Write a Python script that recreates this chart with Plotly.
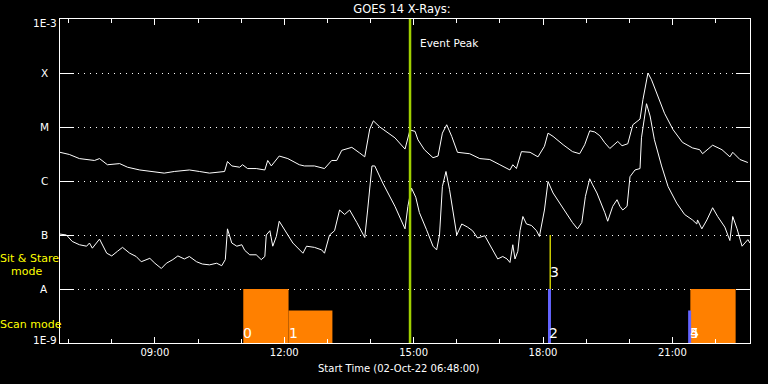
import numpy as np
import pandas as pd
import plotly.graph_objects as go

DAY = "2022-10-02 "

# Long channel (1-8 A) - upper curve
long_times = ["06:48","07:01","07:15","07:36","07:43","07:54","08:11","08:22","08:39","09:00",
              "09:13","09:27","09:48","10:02","10:16","10:37","10:41","10:47","10:58","11:02",
              "11:09","11:21","11:33","11:37","11:42","11:53","12:05","12:21","12:28","12:42",
              "12:56","13:06","13:13","13:20","13:34","13:45","13:52","13:59","14:04","14:13",
              "14:34","14:48","14:55","15:02","15:06","15:15","15:27","15:34","15:40","15:46",
              "15:53","16:01","16:18","16:32","16:46","17:00","17:14","17:18","17:23","17:30",
              "17:42","17:53","18:02","18:07","18:14","18:28","18:41","18:51","18:58","19:05",
              "19:12","19:19","19:26","19:33","19:44","19:50","19:58","20:05","20:15","20:19",
              "20:26","20:31","20:40","20:49","21:01","21:14","21:28","21:38","21:42","21:56",
              "22:09","22:20","22:24","22:34","22:45"]
long_flux = [3.4e-6,3.1e-6,2.6e-6,2.4e-6,2.6e-6,2.0e-6,2.1e-6,1.8e-6,1.6e-6,1.5e-6,
             1.4e-6,1.5e-6,1.6e-6,1.5e-6,1.4e-6,1.5e-6,2.3e-6,1.9e-6,1.8e-6,2.0e-6,
             1.7e-6,1.7e-6,1.6e-6,2.4e-6,1.9e-6,2.9e-6,2.6e-6,2.0e-6,1.9e-6,1.9e-6,
             1.7e-6,2.4e-6,2.4e-6,3.7e-6,4.2e-6,3.3e-6,2.8e-6,9.2e-6,1.3e-5,1.0e-5,
             6.3e-6,3.9e-6,8.8e-6,8.3e-6,5.8e-6,3.8e-6,2.7e-6,2.9e-6,7.7e-6,1.1e-5,
             6.7e-6,3.4e-6,3.2e-6,2.6e-6,2.5e-6,2.0e-6,1.6e-6,2.0e-6,1.7e-6,3.5e-6,
             3.4e-6,2.8e-6,4.4e-6,7.7e-6,6.7e-6,4.7e-6,3.5e-6,3.2e-6,4.7e-6,8.5e-6,
             8.1e-6,6.9e-6,5.1e-6,4.0e-6,5.4e-6,4.5e-6,4.9e-6,1.1e-5,1.4e-5,3.2e-5,
             1.0e-4,7.5e-5,3.7e-5,1.8e-5,8.9e-6,5.2e-6,4.1e-6,3.8e-6,3.2e-6,4.6e-6,
             3.8e-6,2.8e-6,3.4e-6,2.5e-6,2.2e-6]

# Short channel (0.5-4 A) - lower curve
short_times = ["06:48","06:57","07:05","07:15","07:25","07:29","07:33","07:43","07:53","08:00",
               "08:08","08:15","08:25","08:34","08:41","08:53","09:00","09:09","09:16","09:25",
               "09:32","09:41","09:48","09:58","10:06","10:16","10:26","10:33","10:38","10:41",
               "10:47","10:54","11:01","11:05","11:12","11:21","11:28","11:33","11:35","11:40",
               "11:44","11:49","11:53","12:00","12:12","12:26","12:31","12:42","12:52","12:56",
               "13:03","13:10","13:17","13:24","13:31","13:41","13:52","13:56","14:02","14:06",
               "14:17","14:34","14:48","14:52","14:57","15:03","15:08","15:18","15:27","15:32",
               "15:36","15:40","15:45","15:50","16:00","16:07","16:15","16:22","16:29","16:39",
               "16:49","16:57","17:04","17:10","17:14","17:18","17:21","17:25","17:28","17:32",
               "17:37","17:44","17:51","17:55","18:02","18:07","18:14","18:23","18:33","18:41",
               "18:48","18:54","18:59","19:05","19:09","19:15","19:26","19:30","19:37","19:43",
               "19:47","19:51","19:57","20:01","20:08","20:15","20:17","20:22","20:24","20:29",
               "20:35","20:45","20:54","21:06","21:17","21:28","21:34","21:35","21:41","21:48",
               "21:56","22:03","22:13","22:20","22:24","22:30","22:37","22:45","22:48"]
short_flux = [1.04e-7,1.0e-7,7.6e-8,6.6e-8,6.2e-8,7.1e-8,5.7e-8,8.4e-8,4.6e-8,4.1e-8,
              5.0e-8,5.9e-8,4.6e-8,4.0e-8,3.2e-8,3.7e-8,3.0e-8,2.4e-8,3.0e-8,3.5e-8,
              4.1e-8,3.6e-8,4.0e-8,3.2e-8,2.9e-8,2.8e-8,3.0e-8,2.7e-8,3.5e-8,1.3e-7,
              7.1e-8,6.2e-8,6.6e-8,5.2e-8,4.3e-8,4.3e-8,3.5e-8,4.0e-8,1.0e-7,1.2e-7,
              6.2e-8,9.4e-8,1.8e-7,1.3e-7,7.1e-8,4.6e-8,6.2e-8,5.9e-8,5.3e-8,4.6e-8,
              1.0e-7,1.2e-7,2.9e-7,2.4e-7,2.9e-7,1.7e-7,9.0e-8,2.9e-7,1.9e-6,1.9e-6,
              9.2e-7,3.4e-7,1.3e-7,3.4e-7,7.4e-7,5.0e-7,2.6e-7,1.25e-7,6.2e-8,5.3e-8,
              1.0e-7,7.9e-7,1.5e-6,6.9e-7,1.0e-7,1.6e-7,1.4e-7,1.2e-7,8.8e-8,9.7e-8,
              5.7e-8,3.6e-8,4.0e-8,3.6e-8,3.1e-8,6.6e-8,3.6e-8,5.0e-8,1.2e-7,2.2e-7,
              1.6e-7,1.5e-7,1.2e-7,9.4e-8,2.9e-7,9.8e-7,6.0e-7,3.9e-7,2.4e-7,1.7e-7,
              1.3e-7,1.7e-7,5.2e-7,1.1e-6,8.5e-7,6.0e-7,2.6e-7,1.8e-7,3.4e-7,4.5e-7,
              3.4e-7,2.9e-7,3.4e-7,1.2e-6,1.6e-6,1.7e-6,6.3e-6,1.6e-5,2.7e-5,1.6e-5,
              5.8e-6,1.9e-6,7.9e-7,3.9e-7,2.4e-7,1.9e-7,1.6e-7,1.9e-7,1.3e-7,1.9e-7,
              3.2e-7,2.2e-7,1.4e-7,7.9e-8,2.2e-7,1.3e-7,6.2e-8,8.2e-8,7.1e-8]

# Scan mode blocks (orange)
scan_starts = ["11:03", "12:06", "21:25"]
scan_ends = ["12:06", "13:07", "22:28"]
scan_tops = [1e-8, 4e-9, 1e-8]
# Scan mode short events (blue)
blue_times = ["18:09", "21:24"]
blue_tops = [1e-8, 4e-9]
# Sit & stare event (yellow)
sit_times = ["18:10"]
sit_range = [1e-8, 1e-7]
# Event labels
label_texts = ["0", "1", "2", "3", "4", "5"]
label_times = ["11:03", "12:06", "18:09", "18:10", "21:24", "21:25"]
label_flux = [1.5e-9, 1.5e-9, 1.5e-9, 2.1e-8, 1.5e-9, 1.5e-9]

event_peak = "14:55"
x_range = ["06:48", "22:48"]
ytick_vals = [1e-9, 1e-8, 1e-7, 1e-6, 1e-5, 1e-4, 1e-3]
ytick_text = ["1E-9", "A", "B", "C", "M", "X", "1E-3"]

def T(s):
    return pd.to_datetime(DAY + s)

FONT = "DejaVu Sans"
fig = go.Figure()

fig.add_trace(go.Scatter(x=[T(t) for t in long_times], y=long_flux, mode="lines",
                         line=dict(color="white", width=1), hoverinfo="skip"))
fig.add_trace(go.Scatter(x=[T(t) for t in short_times], y=short_flux, mode="lines",
                         line=dict(color="white", width=1), hoverinfo="skip"))

for s, e, top in zip(scan_starts, scan_ends, scan_tops):
    fig.add_trace(go.Scatter(x=[T(s), T(s), T(e), T(e), T(s)],
                             y=[1e-9, top, top, 1e-9, 1e-9],
                             fill="toself", fillcolor="#ff8000", mode="lines",
                             line=dict(width=0, color="#ff8000"), hoverinfo="skip"))
for t, top in zip(blue_times, blue_tops):
    fig.add_trace(go.Scatter(x=[T(t), T(t)], y=[1e-9, top], mode="lines",
                             line=dict(color="#6464ff", width=3), hoverinfo="skip"))
for t in sit_times:
    fig.add_trace(go.Scatter(x=[T(t), T(t)], y=sit_range, mode="lines",
                             line=dict(color="#ffff00", width=1.2), hoverinfo="skip"))

fig.add_shape(type="line", x0=T(event_peak), x1=T(event_peak), xref="x",
              y0=0, y1=1, yref="paper", line=dict(color="#a0d000", width=2.5))

ann = []
for txt, t, fl in zip(label_texts, label_times, label_flux):
    ann.append(dict(x=T(t), y=np.log10(fl), xref="x", yref="y", text=txt, showarrow=False,
                    xanchor="left", yanchor="middle", xshift=-2,
                    font=dict(family=FONT, size=14, color="white")))
for v, txt in zip(ytick_vals, ytick_text):
    if txt.startswith("1E"):
        ys = -4 if v == 1e-3 else 3
        ann.append(dict(x=0, y=np.log10(v), xref="paper", yref="y", text=txt, showarrow=False,
                        xanchor="right", yanchor="middle", xshift=-1, yshift=ys,
                        font=dict(family=FONT, size=10.5, color="white")))
    else:
        ann.append(dict(x=0, y=np.log10(v), xref="paper", yref="y", text=txt, showarrow=False,
                        xanchor="center", yanchor="middle", xshift=-16,
                        font=dict(family=FONT, size=10.5, color="white")))
ann.append(dict(x=T(event_peak), y=0.926, xref="x", yref="paper", text="Event Peak",
                showarrow=False, xanchor="left", yanchor="middle", xshift=8,
                font=dict(family=FONT, size=10.5, color="white")))
ann.append(dict(x=0.491, y=-0.080, xref="paper", yref="paper",
                text="Start Time (02-Oct-22 06:48:00)", showarrow=False,
                xanchor="center", yanchor="middle",
                font=dict(family=FONT, size=10, color="white")))
ann.append(dict(x=0, y=0.260, xref="paper", yref="paper", text="Sit & Stare",
                showarrow=False, xanchor="left", yanchor="middle", xshift=-62,
                font=dict(family=FONT, size=11, color="#ffff00")))
ann.append(dict(x=0, y=0.222, xref="paper", yref="paper", text="mode",
                showarrow=False, xanchor="left", yanchor="middle", xshift=-51,
                font=dict(family=FONT, size=11, color="#ffff00")))
ann.append(dict(x=0, y=0.058, xref="paper", yref="paper", text="Scan mode",
                showarrow=False, xanchor="left", yanchor="middle", xshift=-62,
                font=dict(family=FONT, size=11, color="#ffff00")))

fig.update_layout(
    width=768, height=384, autosize=False,
    margin=dict(l=60, r=18, t=19, b=41),
    paper_bgcolor="black", plot_bgcolor="black",
    showlegend=False,
    title=dict(text="GOES 14 X-Rays:", x=0.4957, xref="paper", xanchor="center",
               y=1 - 9 / 384, yref="container", yanchor="middle",
               font=dict(family=FONT, size=11.5, color="white")),
    annotations=ann,
    xaxis=dict(type="date", range=[T(x_range[0]), T(x_range[1])],
               showline=True, linecolor="white", linewidth=1, mirror="ticks",
               ticks="inside", ticklen=6, tickcolor="white", tickwidth=1,
               tick0=T("00:00"), dtick=3 * 3600000, tickformat="%H:%M",
               tickfont=dict(family=FONT, size=10, color="white"),
               minor=dict(dtick=3600000, tick0=T("00:00"), ticks="inside", ticklen=4,
                          tickcolor="white", showgrid=False),
               showgrid=False, zeroline=False, fixedrange=True),
    yaxis=dict(type="log", range=[-9, -3],
               showline=True, linecolor="white", linewidth=1, mirror="ticks",
               ticks="inside", ticklen=14, tickcolor="white", tickwidth=1,
               tickvals=ytick_vals[1:-1], showticklabels=False,
               showgrid=True, gridcolor="white", gridwidth=1, griddash="1px,5px",
               zeroline=False, fixedrange=True),
)

fig.write_html("out.html", config={"displayModeBar": False},
               post_script="document.body.style.margin='0';document.body.style.background='black';")
